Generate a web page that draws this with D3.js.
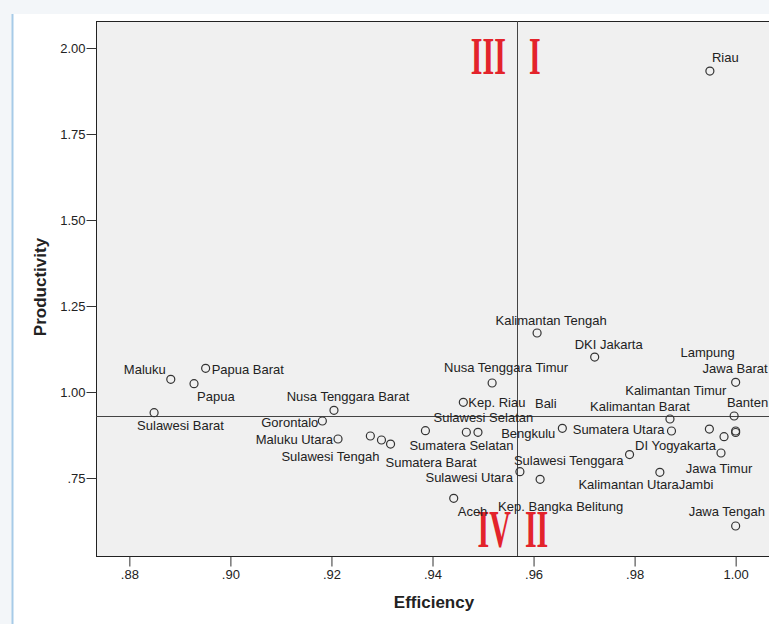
<!DOCTYPE html>
<html>
<head>
<meta charset="utf-8">
<script src="https://cdnjs.cloudflare.com/ajax/libs/d3/7.8.5/d3.min.js"></script>
<style>
  body { margin: 0; background: #f3f6f9; }
  svg { display: block; }
</style>
</head>
<body>
<svg id="chart"></svg>
<script>
// provinces and their efficiency / productivity scores
var provinces = ["Riau", "Kalimantan Tengah", "DKI Jakarta", "Nusa Tenggara Timur", "Kep. Riau",
  "Maluku", "Papua Barat", "Papua", "Sulawesi Barat", "Nusa Tenggara Barat", "Gorontalo",
  "Maluku Utara", "Kalimantan Selatan", "Sulawesi Tengah", "Sumatera Barat", "Sumatera Selatan",
  "Sulawesi Selatan", "Bali", "Bengkulu", "Sulawesi Utara", "Kep. Bangka Belitung", "Aceh",
  "Jawa Barat", "Banten", "Kalimantan Barat", "Sumatera Utara", "Kalimantan Timur", "Jawa Timur",
  "Lampung", "Jambi", "DI Yogyakarta", "Sulawesi Tenggara", "Kalimantan Utara", "Jawa Tengah"];

var efficiency = [0.9949, 0.9607, 0.9721, 0.9518, 0.9461,
  0.8882, 0.8951, 0.8928, 0.8849, 0.9205, 0.9182,
  0.9213, 0.9277, 0.9299, 0.9317, 0.9386,
  0.9467, 0.9490, 0.9657, 0.9573, 0.9613, 0.9442,
  1.0000, 0.9997, 0.9870, 0.9873, 0.9948, 0.9977,
  1.0000, 1.0000, 0.9971, 0.9790, 0.9850, 1.0000];

var productivity = [1.933, 1.1715, 1.1017, 1.0262, 0.970,
  1.0369, 1.0689, 1.0241, 0.9398, 0.9468, 0.9157,
  0.8634, 0.8721, 0.8605, 0.8488, 0.8875,
  0.8831, 0.8828, 0.8945, 0.7683, 0.7462, 0.6910,
  1.0282, 0.9302, 0.9215, 0.8866, 0.8924, 0.8701,
  0.8866, 0.8823, 0.8227, 0.8180, 0.7666, 0.6105];

var xTicks = [0.88, 0.90, 0.92, 0.94, 0.96, 0.98, 1.00];
var yTicks = [0.75, 1.00, 1.25, 1.50, 1.75, 2.00];

// mean lines that split the quadrants
var meanEfficiency = 0.9567;
var meanProductivity = 0.930;

var quadrants = ["III", "I", "IV", "II"];

// label placement (pixels from the point), SPSS style
var labelPlace = {
  "Riau": [2, -14, "start"],
  "Kalimantan Tengah": [14, -13, "middle"],
  "DKI Jakarta": [14, -13, "middle"],
  "Nusa Tenggara Timur": [14, -15, "middle"],
  "Kep. Riau": [5, 0, "start"],
  "Maluku": [-5, -10, "end"],
  "Papua Barat": [6, 1, "start"],
  "Papua": [3, 13, "start"],
  "Sulawesi Barat": [-17, 13, "start"],
  "Nusa Tenggara Barat": [14, -14, "middle"],
  "Gorontalo": [-4, 1, "end"],
  "Maluku Utara": [-5, 0, "end"],
  "Sulawesi Tengah": [-2, 16, "end"],
  "Sumatera Barat": [-5, 18, "start"],
  "Sumatera Selatan": [-16, 15, "start"],
  "Sulawesi Selatan": [17, -15, "middle"],
  "Bali": [57, -29, "start"],
  "Bengkulu": [-7, 5, "end"],
  "Sulawesi Utara": [-7, 6, "end"],
  "Kep. Bangka Belitung": [-42, 27, "start"],
  "Aceh": [4, 13, "start"],
  "Jawa Barat": [32, -14, "end"],
  "Banten": [34, -14, "end"],
  "Kalimantan Barat": [-30, -13, "middle"],
  "Sumatera Utara": [-7, -2, "end"],
  "Kalimantan Timur": [17, -39, "end"],
  "Jawa Timur": [-5, 32, "middle"],
  "Lampung": [-1, -79, "end"],
  "Jambi": [-57, 52, "start"],
  "DI Yogyakarta": [-5, -8, "end"],
  "Sulawesi Tenggara": [-6, 6, "end"],
  "Kalimantan Utara": [19, 12, "end"],
  "Jawa Tengah": [-47, -15, "start"]
};

var width = 769, height = 624;
var plot = {left: 96, top: 21, right: 769, bottom: 556};

var svg = d3.select("#chart")
  .attr("width", width)
  .attr("height", height);

// white panel with the blue left edge
svg.append("rect")
  .attr("x", 12).attr("y", 14)
  .attr("width", width - 12).attr("height", height - 14)
  .attr("fill", "#fff");
svg.append("line")
  .attr("x1", 12.5).attr("x2", 12.5)
  .attr("y1", 14).attr("y2", height)
  .attr("stroke", "#a7cbe8").attr("stroke-width", 2);

var x = d3.scaleLinear()
  .domain([0.8734, 1.0066])
  .range([plot.left, plot.right]);

var y = d3.scaleLinear()
  .domain([0.5233, 2.0785])
  .range([plot.bottom, plot.top]);

// plot area
svg.append("rect")
  .attr("x", plot.left + 0.5).attr("y", plot.top + 0.5)
  .attr("width", plot.right - plot.left + 5).attr("height", plot.bottom - plot.top)
  .attr("fill", "#f0f0f0")
  .attr("stroke", "#222").attr("stroke-width", 1);

function fmt(v) {
  return d3.format(".2f")(v).replace(/^0\./, ".");
}

var xAxis = svg.append("g")
  .attr("transform", "translate(0," + (plot.bottom + 0.5) + ")")
  .call(d3.axisBottom(x).tickValues(xTicks).tickFormat(fmt).tickSize(10).tickPadding(3));

var yAxis = svg.append("g")
  .attr("transform", "translate(" + (plot.left + 0.5) + ",0)")
  .call(d3.axisLeft(y).tickValues(yTicks).tickFormat(fmt).tickSize(10).tickPadding(1));

[xAxis, yAxis].forEach(function(ax) {
  ax.select(".domain").remove();
  ax.selectAll(".tick line").attr("stroke", "#333");
  ax.selectAll(".tick text")
    .attr("fill", "#222")
    .style("font-family", "'Liberation Sans', Arial, sans-serif")
    .style("font-size", "13px");
});

// axis titles
svg.append("text")
  .attr("x", 434).attr("y", 608)
  .attr("text-anchor", "middle")
  .style("font-family", "'Liberation Sans', Arial, sans-serif")
  .style("font-size", "17px").style("font-weight", "bold")
  .attr("fill", "#222")
  .text("Efficiency");

svg.append("text")
  .attr("transform", "translate(46,287) rotate(-90)")
  .attr("text-anchor", "middle")
  .style("font-family", "'Liberation Sans', Arial, sans-serif")
  .style("font-size", "17px").style("font-weight", "bold")
  .attr("fill", "#222")
  .text("Productivity");

// reference lines
svg.append("line")
  .attr("x1", Math.round(x(meanEfficiency)) + 0.5).attr("x2", Math.round(x(meanEfficiency)) + 0.5)
  .attr("y1", plot.top).attr("y2", plot.bottom)
  .attr("stroke", "#444").attr("stroke-width", 1);
svg.append("line")
  .attr("x1", plot.left).attr("x2", plot.right)
  .attr("y1", Math.round(y(meanProductivity)) + 0.5).attr("y2", Math.round(y(meanProductivity)) + 0.5)
  .attr("stroke", "#444").attr("stroke-width", 1);

// quadrant numerals
var qx = x(meanEfficiency);
var qPos = [[qx - 11, 74, "end"], [qx + 12, 74, "start"], [qx - 6, 547, "end"], [qx + 8, 547, "start"]];
svg.selectAll(".quad")
  .data(quadrants)
  .enter().append("text")
    .attr("class", "quad")
    .attr("transform", function(d, i) {
      return "translate(" + qPos[i][0] + "," + qPos[i][1] + ") scale(1,1.75)";
    })
    .attr("text-anchor", function(d, i) { return qPos[i][2]; })
    .style("font-family", "'Liberation Serif', 'Times New Roman', serif")
    .style("font-size", "30px").style("font-weight", "bold")
    .attr("fill", "#e3232b")
    .text(function(d) { return d; });

// points
var pts = provinces.map(function(p, i) {
  return {name: p, ef: efficiency[i], pr: productivity[i]};
});

svg.selectAll(".pt")
  .data(pts)
  .enter().append("circle")
    .attr("class", "pt")
    .attr("cx", function(d) { return x(d.ef); })
    .attr("cy", function(d) { return y(d.pr); })
    .attr("r", 4)
    .attr("fill", "none")
    .attr("stroke", "#333")
    .attr("stroke-width", 1.2);

// labels
svg.selectAll(".lbl")
  .data(pts.filter(function(d) { return labelPlace[d.name]; }))
  .enter().append("text")
    .attr("class", "lbl")
    .attr("x", function(d) { return x(d.ef) + labelPlace[d.name][0]; })
    .attr("y", function(d) { return y(d.pr) + labelPlace[d.name][1] + 4.5; })
    .attr("text-anchor", function(d) { return labelPlace[d.name][2]; })
    .style("font-family", "'Liberation Sans', Arial, sans-serif")
    .style("font-size", "13px")
    .attr("fill", "#222")
    .text(function(d) { return d.name; });
</script>
</body>
</html>
